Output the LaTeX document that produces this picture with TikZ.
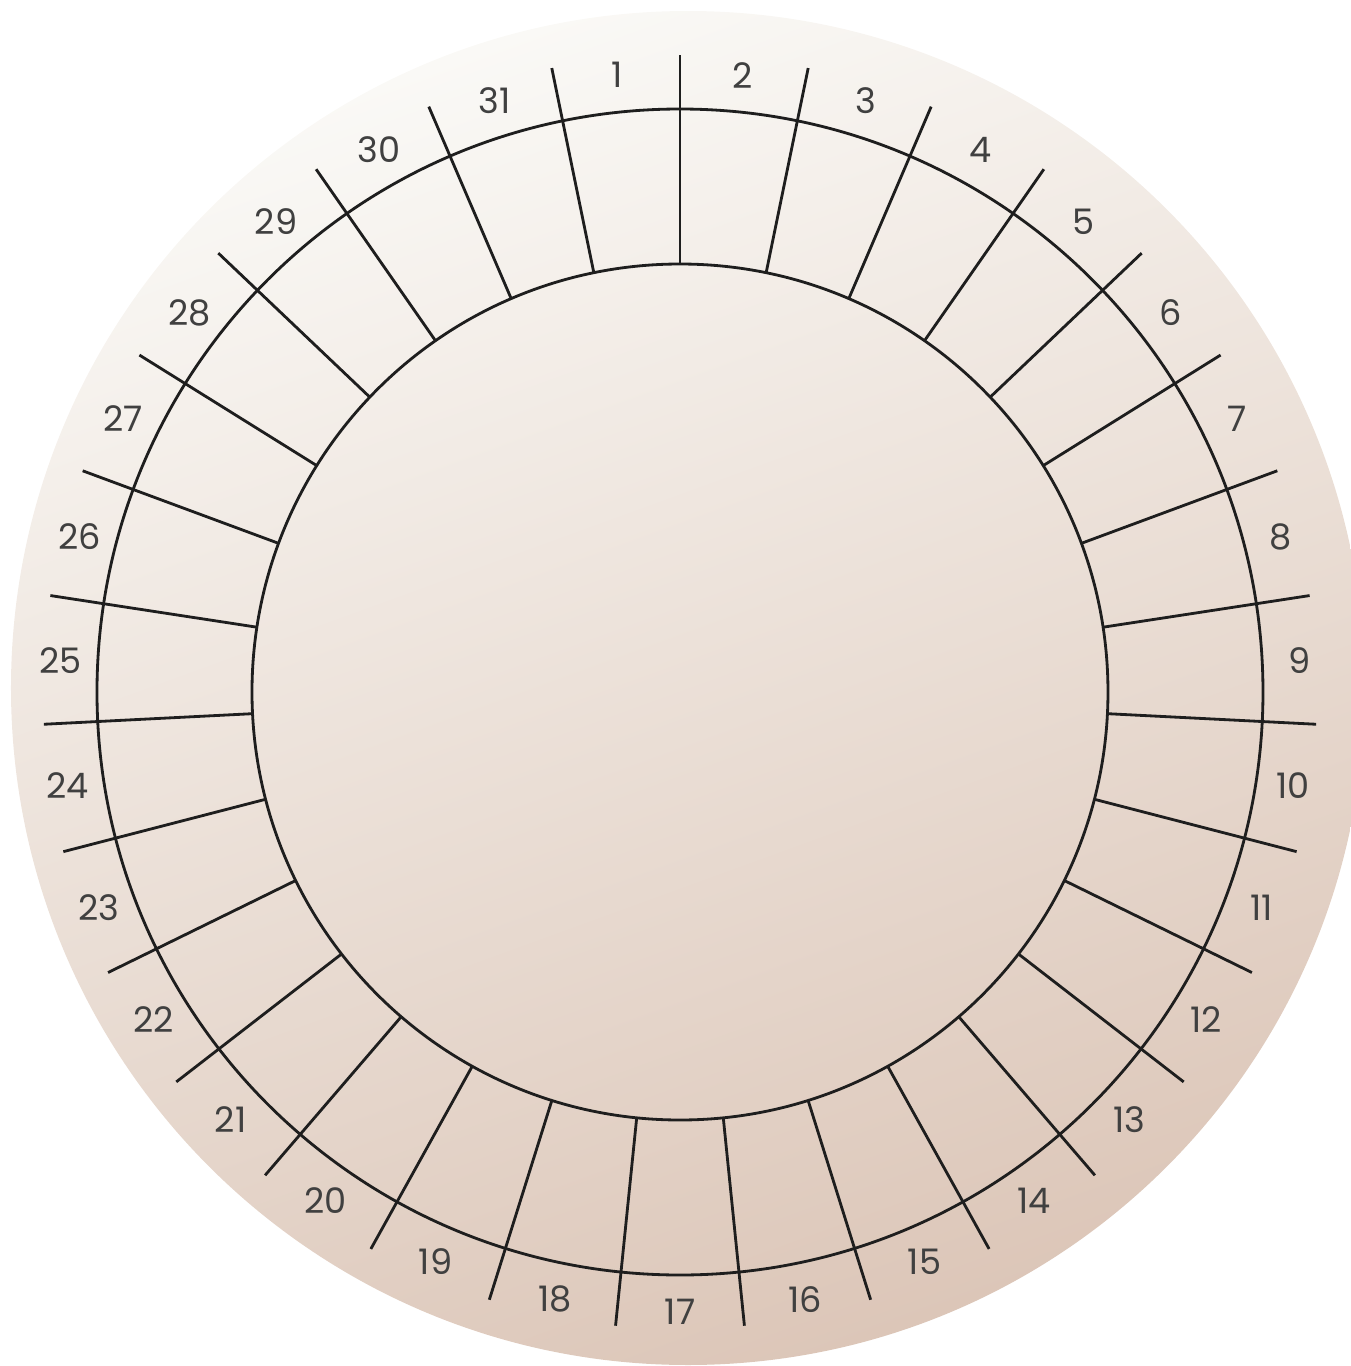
\documentclass[tikz,border=0pt]{standalone}
\usepackage{fontspec}
\setmainfont{Poppins}
\usepackage{xcolor}
\usepackage{tikz}
\usetikzlibrary{positioning, calc}

\definecolor{paperTop}{HTML}{FAF9F6}
\definecolor{paperMid}{HTML}{ECE1DB}
\definecolor{paperBot}{HTML}{DCC6B8}
\definecolor{inkDark}{HTML}{1E1E1E}

\begin{document}
\begin{tikzpicture}[x=0.1mm, y=0.1mm]
      \useasboundingbox (-680,-674) rectangle (671,692);

      % background disc
      \shade[top color=paperTop, middle color=paperMid, bottom color=paperBot, shading angle=20]
        (8,4) circle[radius=677];

      \coordinate (c) at (0,0);
      \draw[inkDark, line width=0.8pt] (c) circle[radius=583];
      \draw[inkDark, line width=0.8pt] (c) circle[radius=428];

      \foreach \k in {0,...,30} {
        \draw[inkDark, line width=0.8pt] ({90-\k*360/31}:428) -- ({90-\k*360/31}:637);
      }

      \foreach \n in {1,...,31} {
        \node[text=inkDark!85, font=\fontsize{10}{12}\selectfont, inner sep=0pt] (day\n)
          at ({90+180/31-(\n-1)*360/31}:620) {\n};
      }
    \end{tikzpicture}
\end{document}
